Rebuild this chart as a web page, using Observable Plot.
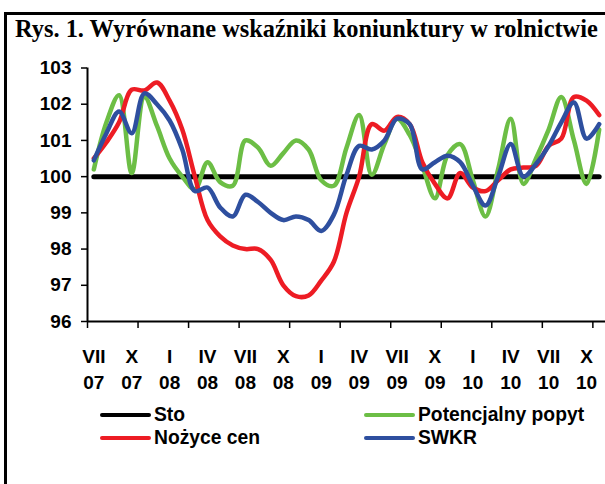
<!DOCTYPE html>
<html>
<head>
<meta charset="utf-8">
<script src="https://cdn.jsdelivr.net/npm/d3@7"></script>
<script src="https://cdn.jsdelivr.net/npm/@observablehq/plot@0.6"></script>
<style>
html, body { margin: 0; padding: 0; background: #fff; overflow: hidden; }
#wrap { position: relative; width: 605px; height: 484px; }
#frame { position: absolute; left: 4px; top: 12px; width: 601px; height: 472px;
  border-top: 3px solid #000; border-left: 3px solid #000; box-sizing: border-box; }
#title { position: absolute; left: 15px; top: 14px; white-space: nowrap;
  font: bold 24.4px "Liberation Serif", "Times New Roman", serif; line-height: 30px; color: #000; }
#chart { position: absolute; left: 0; top: 50px; }
.legline { position: absolute; height: 4px; border-radius: 2px; }
.legtext { position: absolute; font: bold 19.3px "Liberation Sans", Arial, sans-serif; line-height: 22px; white-space: nowrap; color: #000; }
</style>
</head>
<body>
<div id="wrap">
  <div id="frame"></div>
  <div id="title">Rys. 1. Wyrównane wskaźniki koniunktury w rolnictwie</div>
  <div id="chart"></div>
  <div id="legend"></div>
</div>
<script>
// Monthly data: VII 2007 ... XI 2010 (index 0..40)
const sto = [100,100,100,100,100,100,100,100,100,100,100,100,100,100,100,100,100,100,100,100,100,100,100,100,100,100,100,100,100,100,100,100,100,100,100,100,100,100,100,100,100];
const potencjalnyPopyt = [100.2, 101.5, 102.25, 100.1, 102.2, 101.4, 100.5, 100.0, 99.65, 100.4, 99.85, 99.75, 101.0, 100.8, 100.3, 100.65, 101.0, 100.75, 99.9, 99.75, 100.8, 101.7, 100.05, 100.9, 101.6, 101.15, 100.3, 99.4, 100.6, 100.9, 99.9, 98.9, 100.2, 101.6, 99.8, 100.5, 101.3, 102.2, 101.0, 99.8, 101.3];
const nozyceCen = [100.5, 100.95, 101.5, 102.4, 102.38, 102.6, 102.1, 101.3, 100.0, 98.8, 98.35, 98.1, 98.0, 98.0, 97.7, 97.0, 96.7, 96.72, 97.13, 97.65, 99.0, 100.0, 101.45, 101.27, 101.65, 101.45, 100.4, 99.8, 99.4, 100.1, 99.7, 99.6, 99.9, 100.2, 100.25, 100.3, 100.85, 101.05, 102.2, 102.1, 101.7];
const swkr = [100.45, 101.2, 101.8, 101.2, 102.3, 102.0, 101.55, 100.75, 99.6, 99.7, 99.15, 98.9, 99.5, 99.3, 99.0, 98.8, 98.9, 98.8, 98.5, 98.95, 100.05, 100.85, 100.75, 101.0, 101.6, 101.45, 100.2, 100.4, 100.58, 100.4, 99.75, 99.2, 100.0, 100.9, 100.0, 100.35, 100.85, 101.5, 102.05, 101.05, 101.45];

const labelMonths = ["VII","X","I","IV","VII","X","I","IV","VII","X","I","IV","VII","X"];
const labelYears  = ["07","07","08","08","08","08","09","09","09","09","10","10","10","10"];
const labelIdx = [0,3,6,9,12,15,18,21,24,27,30,33,36,39];
const tickBounds = [-0.5,3.5,7.5,11.5,15.5,19.5,23.5,27.5,31.5,35.5,39.5];
const yTicks = [96,97,98,99,100,101,102,103];

const seriesNames = ["Sto","Potencjalny popyt","Nożyce cen","SWKR"];
const seriesColors = ["#000000","#6cbe45","#ed1c24","#2e4f9f"];
const seriesValues = [sto, potencjalnyPopyt, nozyceCen, swkr];

const idx = d3.range(sto.length);
const font = {fontSize: 19, fontWeight: "bold", fontFamily: "Liberation Sans, Arial, sans-serif"};

const chart = Plot.plot({
  width: 605,
  height: 345,
  marginLeft: 87,
  marginRight: 0,
  marginTop: 17.5,
  marginBottom: 74,
  style: {fontFamily: "Liberation Sans, Arial, sans-serif", fontSize: "19px", fontWeight: "bold", color: "#000", background: "transparent", overflow: "visible"},
  x: {domain: [-0.5, 40.5]},
  y: {domain: [96, 103]},
  marks: [
    Plot.ruleY([96], {stroke: "#000", strokeWidth: 2}),
    Plot.ruleX([-0.5], {stroke: "#000", strokeWidth: 2}),
    Plot.axisY(yTicks, {tickSize: 6, tickPadding: 10, strokeWidth: 1.5, ...font}),
    Plot.axisX(tickBounds, {tickSize: 7, strokeWidth: 1.5, fill: "none", tickFormat: () => ""}),
    Plot.axisX(labelIdx, {tickSize: 0, tickPadding: 23, lineHeight: 1.38,
      tickFormat: d => labelMonths[labelIdx.indexOf(d)] + "\n" + labelYears[labelIdx.indexOf(d)], ...font}),
    ...seriesValues.map((vals, k) => Plot.line(idx, {
      x: i => i, y: i => vals[i],
      stroke: seriesColors[k], strokeWidth: k === 0 ? 5 : 4.5,
      curve: k === 0 ? "linear" : "catmull-rom",
      strokeLinecap: "round", strokeLinejoin: "round"
    }))
  ]
});
document.getElementById("chart").appendChild(chart);

// Legend (two columns, Excel order)
const legend = document.getElementById("legend");
const legPos = [
  {lx: 100, tx: 154, y: 415},
  {lx: 364, tx: 418, y: 415},
  {lx: 100, tx: 154, y: 438},
  {lx: 364, tx: 418, y: 438}
];
seriesNames.forEach((name, k) => {
  const p = legPos[k];
  const ln = document.createElement("div");
  ln.className = "legline";
  ln.style.left = p.lx + "px";
  ln.style.width = "51px";
  ln.style.top = (p.y - 2) + "px";
  ln.style.background = seriesColors[k];
  legend.appendChild(ln);
  const tx = document.createElement("div");
  tx.className = "legtext";
  tx.style.left = p.tx + "px";
  tx.style.top = (p.y - 11) + "px";
  tx.textContent = name;
  legend.appendChild(tx);
});
</script>
</body>
</html>
